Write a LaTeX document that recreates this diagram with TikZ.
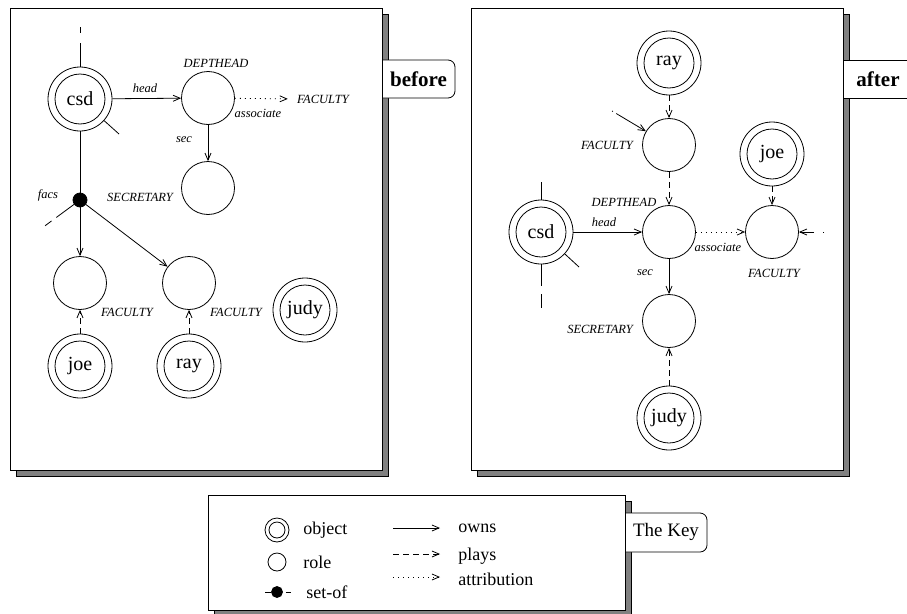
\documentclass[tikz,border=0pt]{standalone}
\usepackage{fontspec}
\setmainfont{Liberation Serif}
\usetikzlibrary{arrows.meta}
\tikzset{
  obj/.style={circle, draw, minimum size=64pt, inner sep=0pt,
    font=\fontsize{20}{22}\selectfont,
    path picture={\draw[line width=0.8pt] (path picture bounding box.center) circle (25pt);}},
  objkey/.style={circle, draw, minimum size=24pt, inner sep=0pt,
    path picture={\draw[line width=0.8pt] (path picture bounding box.center) circle (8pt);}},
  role/.style={circle, draw, minimum size=53pt, inner sep=0pt},
  rolekey/.style={circle, draw, minimum size=18pt, inner sep=0pt},
  setof/.style={circle, fill=black, draw, minimum size=14pt, inner sep=0pt},
  setofkey/.style={circle, fill=black, draw, minimum size=11pt, inner sep=0pt},
  lbl/.style={inner sep=0pt, font=\fontsize{12.5}{14}\selectfont\itshape},
  keytxt/.style={inner sep=0pt, anchor=west, font=\fontsize{18}{20}\selectfont},
  tip/.style={-{Straight Barb[length=7pt,width=6pt,line width=0.8pt]}},
  owns/.style={tip},
  plays/.style={tip, dash pattern=on 6pt off 4pt},
  attr/.style={tip, dash pattern=on 1pt off 4pt},
  panel/.style={draw, fill=white, line width=0.8pt},
  shadow/.style={draw, fill=black!50, line width=0.8pt},
  tab/.style={draw, fill=white, line width=0.8pt},
}
\begin{document}
\begin{tikzpicture}[x=1pt, y=-1pt, line width=0.8pt]
\useasboundingbox (0,0) rectangle (907,613);

% ---------- frames ----------
\draw[shadow] (16,14) rectangle (388,476);
\draw[tab, rounded corners=7pt] (382,60) -| (455,98) -- (382,98);
\draw[panel] (10,8) rectangle (382,470);
\node[font=\fontsize{21}{23}\selectfont\bfseries] (before) at (418.5,79) {before};

\draw[shadow] (477,14) rectangle (849,476);
\fill[white] (843,60) rectangle (910,98);
\draw (843,60) -- (910,60) (843,98) -- (910,98);
\draw[panel] (471,8) rectangle (843,470);
\node[font=\fontsize{21}{23}\selectfont\bfseries] (after) at (878,79) {after};

\draw[shadow] (214,501) rectangle (631,616);
\draw[tab, rounded corners=7pt] (625,513) -| (707,552) -- (625,552);
\draw[panel] (208,495) rectangle (625,610);
\node[font=\fontsize{19}{21}\selectfont] (keytab) at (666,532) {The Key};

% ---------- before ----------
\node[obj] (csdL) at (80,99) {csd};
\coordinate (csdLn) at (80,27);
\coordinate (csdLs) at (119,134);
\draw[dash pattern=on 24pt off 10pt on 6pt off 10pt] (csdL) -- (csdLn);
\draw (csdL) -- (csdLs);

\node[role] (dhL) at (208,98) {};
\node[lbl] (dhLt) at (216,63) {DEPTHEAD};
\draw[owns] (csdL) -- (dhL);
\node[lbl] (headL) at (145,88) {head};

\node[lbl] (facLt) at (323,99) {FACULTY};
\draw[attr, shorten >=9pt] (dhL) -- (facLt.west);
\node[lbl] (assocL) at (258,113) {associate};

\node[role] (secL) at (208,188) {};
\draw[owns] (dhL) -- (secL);
\node[lbl] (secLl) at (184,140) {sec};
\node[lbl] (secLt) at (140,197) {SECRETARY};

\node[setof] (setL) at (80,200) {};
\draw (csdL) -- (setL);
\coordinate (setLs) at (42,228);
\draw[dash pattern=on 22pt off 6pt on 8pt] (setL) -- (setLs);
\node[lbl] (facsL) at (48,195) {facs};

\node[role] (fac1L) at (80,283) {};
\node[role] (fac2L) at (189,283) {};
\draw[owns] (setL) -- (fac1L);
\draw[owns] (setL) -- (fac2L);
\node[lbl] (fac1Lt) at (127,312) {FACULTY};
\node[lbl] (fac2Lt) at (236,312) {FACULTY};

\node[obj] (joeL) at (80,366) {joe};
\node[obj] (rayL) at (189,366) {ray};
\node[obj] (judyL) at (305,310) {judy};
\draw[plays] (joeL) -- (fac1L);
\draw[plays] (rayL) -- (fac2L);

% ---------- after ----------
\node[obj] (rayR) at (669,63) {ray};
\node[role] (fac1R) at (669,145) {};
\node[lbl] (fac1Rt) at (607,145) {FACULTY};
\draw[plays] (rayR) -- (fac1R);
\coordinate (fac1Rs) at (612,111);
\draw[owns, dash pattern=on 1pt off 4pt on 40pt] (fac1Rs) -- (fac1R);

\node[role] (dhR) at (669,232) {};
\node[lbl] (dhRt) at (624,202) {DEPTHEAD};
\draw[plays] (fac1R) -- (dhR);

\node[obj] (csdR) at (541,232) {csd};
\coordinate (csdRn) at (541,182);
\coordinate (csdRse) at (579,267);
\coordinate (csdRs) at (541,308);
\draw (csdR) -- (csdRn);
\draw (csdR) -- (csdRse);
\draw[dash pattern=on 22pt off 8pt on 15pt] (csdR) -- (csdRs);
\draw[owns] (csdR) -- (dhR);
\node[lbl] (headR) at (604,222) {head};

\node[role] (fac2R) at (772,232) {};
\draw[attr] (dhR) -- (fac2R);
\node[lbl] (assocR) at (718,247) {associate};
\node[lbl] (fac2Rt) at (774,273) {FACULTY};
\coordinate (fac2Rs) at (824,232);
\draw[owns, dash pattern=on 1pt off 9pt on 20pt] (fac2Rs) -- (fac2R);

\node[obj] (joeR) at (772,154) {joe};
\draw[plays] (joeR) -- (fac2R);

\node[role] (secR) at (669,321) {};
\draw[owns] (dhR) -- (secR);
\node[lbl] (secRl) at (645,273) {sec};
\node[lbl] (secRt) at (600,329) {SECRETARY};

\node[obj] (judyR) at (669,418) {judy};
\draw[plays] (judyR) -- (secR);

% ---------- key ----------
\node[objkey] (kobj) at (277,530) {};
\node[keytxt] (kobjt) at (303,530) {object};
\node[rolekey] (krole) at (277,562) {};
\node[keytxt] (kroletxt) at (303,562) {role};
\node[setofkey] (kset) at (277,592) {};
\coordinate (ksetw) at (265,592);
\coordinate (ksete) at (291,592);
\draw (kset) -- (ksetw);
\draw[dash pattern=on 0pt off 3pt on 6pt off 6pt] (kset) -- (ksete);
\node[keytxt] (ksett) at (306,592) {set-of};

\coordinate (kownsa) at (393,528);
\coordinate (kownsb) at (440,528);
\draw[owns] (kownsa) -- (kownsb);
\node[keytxt] (kownst) at (458,528) {owns};
\coordinate (kplaysa) at (393,554);
\coordinate (kplaysb) at (440,554);
\draw[plays] (kplaysa) -- (kplaysb);
\node[keytxt] (kplayst) at (458,556) {plays};
\coordinate (kattra) at (393,577);
\coordinate (kattrb) at (440,577);
\draw[attr] (kattra) -- (kattrb);
\node[keytxt] (kattrt) at (458,579) {attribution};
\end{tikzpicture}
\end{document}
